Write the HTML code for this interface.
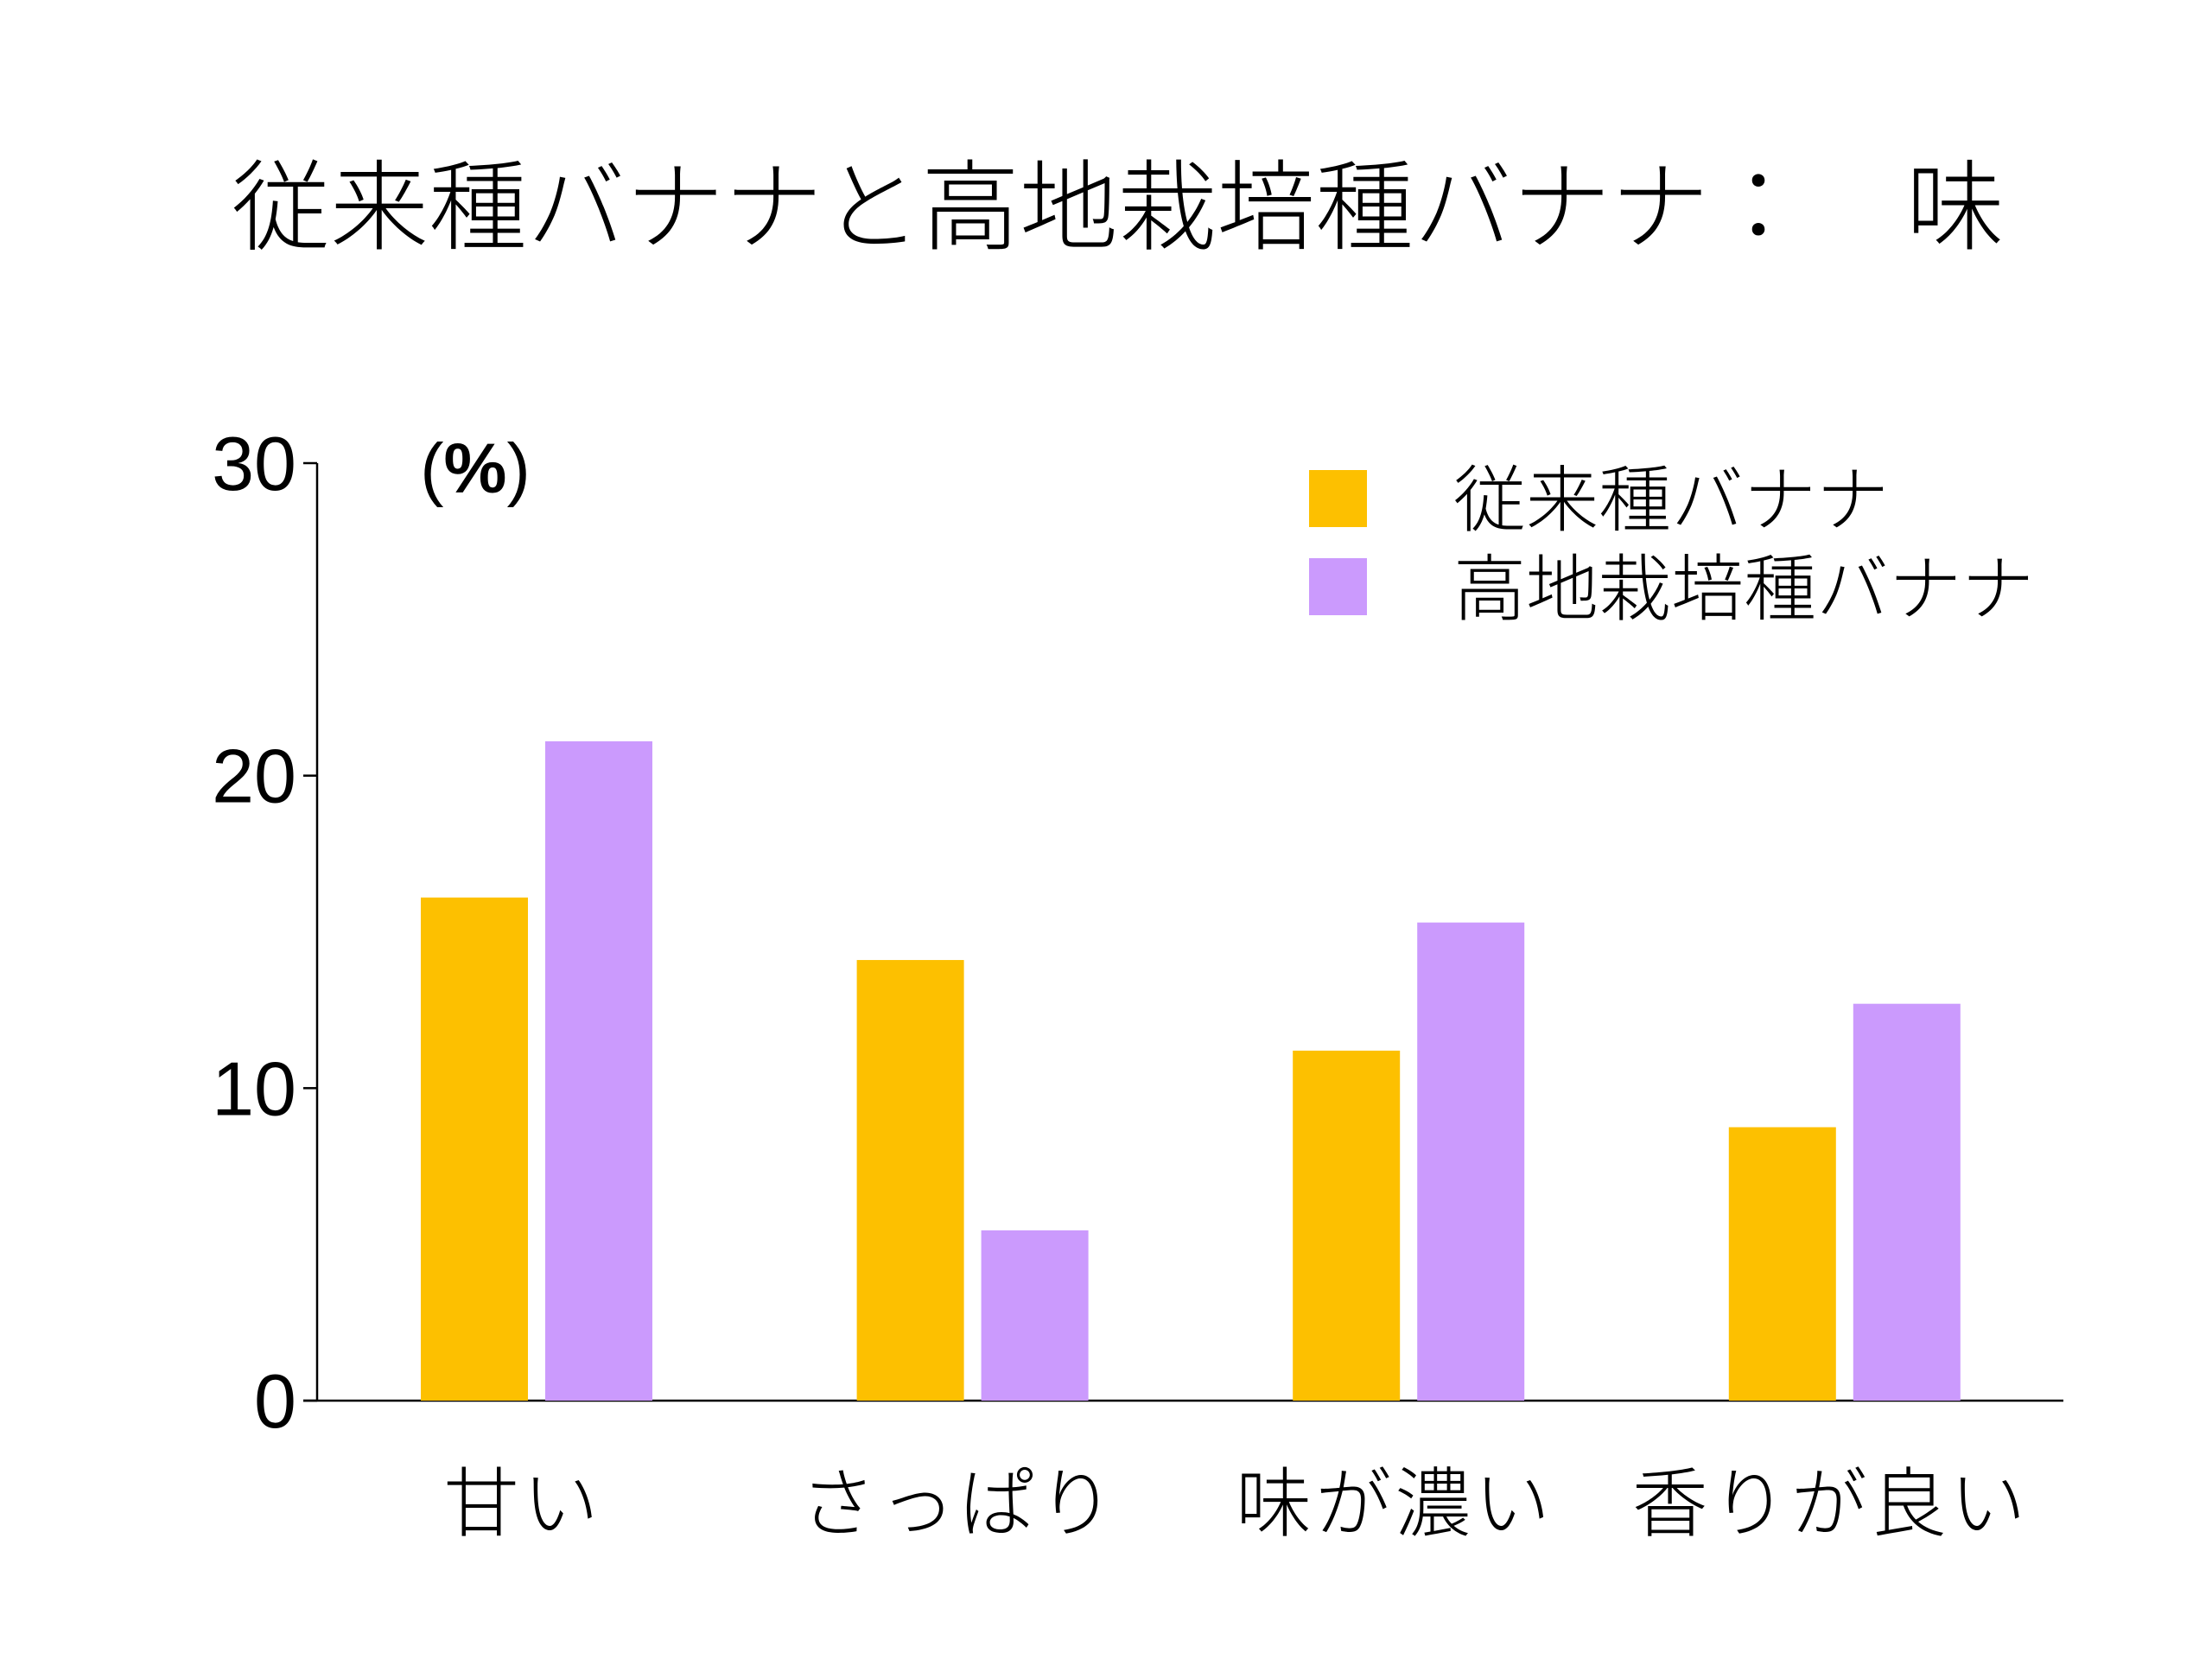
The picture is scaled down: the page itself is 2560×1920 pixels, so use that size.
<!DOCTYPE html>
<html><head><meta charset="utf-8"><style>
html,body{margin:0;padding:0;background:#fff;}
svg{display:block;font-family:"Liberation Sans","Noto Sans CJK JP",sans-serif;}
.jp{font-family:"Noto Sans CJK JP","Liberation Sans",sans-serif;font-weight:300;}
</style></head><body>
<svg id="chart" width="2560" height="1920" viewBox="0 0 2560 1920" xmlns="http://www.w3.org/2000/svg">
<rect width="2560" height="1920" fill="#fff"/>
<text class="jp" x="268" y="280" font-size="114" fill="#000">従来種バナナと高地栽培種バナナ：　味</text>
<g id="axes"></g>
<g id="bars"></g>
<text x="550" y="570" font-size="82" text-anchor="middle" fill="#000" font-family="Liberation Sans, Noto Sans CJK JP, sans-serif">(<tspan font-weight="bold">%</tspan>)</text>
<rect x="1515" y="544" width="67" height="66" fill="#FDC000"/>
<text class="jp" x="1682" y="608" font-size="84" fill="#000">従来種バナナ</text>
<rect x="1515" y="646" width="67" height="66" fill="#CB9AFD"/>
<text class="jp" x="1682" y="711" font-size="84" fill="#000">高地栽培種バナナ</text>
</svg>
<script>
const categories = ["甘い", "さっぱり", "味が濃い", "香りが良い"];
const conventional = [16.1, 14.1, 11.2, 8.75];
const highland = [21.1, 5.45, 15.3, 12.7];
const yTicks = [0, 10, 20, 30];

const NS = "http://www.w3.org/2000/svg";
const x0 = 367, x1 = 2388, yBase = 1621, yTop = 536, yMax = 30;
const groupW = 504.6, firstOrange = 487, barW = 124, gap = 20;
function y(v){ return yBase - (v / yMax) * (yBase - yTop); }
function gx(i){ return firstOrange + i * groupW; }
function mk(tag, attrs){ const e = document.createElementNS(NS, tag); for (const k in attrs) e.setAttribute(k, attrs[k]); return e; }

const axes = document.getElementById('axes');
const yAxis = mk('line', {x1:x0, y1:yTop, x2:x0, y2:yBase, stroke:'#000', 'stroke-width':2.5});


axes.appendChild(yAxis);
const xAxis = mk('line', {x1:x0 - 16, y1:yBase, x2:x1, y2:yBase, stroke:'#000', 'stroke-width':2.5});


axes.appendChild(xAxis);
yTicks.forEach(t => {
  const tk = mk('line', {x1:x0 - 16, y1:y(t), x2:x0, y2:y(t), stroke:'#000', 'stroke-width':2.5});
  
  
  axes.appendChild(tk);
  const lb = mk('text', {x:343, y:y(t) + 31, 'font-size':88, 'text-anchor':'end', fill:'#000'});
  lb.textContent = String(t);
  
  
  axes.appendChild(lb);
});

const bars = document.getElementById('bars');
categories.forEach((c, i) => {
  const b1 = mk('rect', {x:gx(i), y:y(conventional[i]), width:barW, height:yBase - y(conventional[i]), fill:'#FDC000'});
  
  
  bars.appendChild(b1);
  const b2 = mk('rect', {x:gx(i) + barW + gap, y:y(highland[i]), width:barW, height:yBase - y(highland[i]), fill:'#CB9AFD'});
  
  
  bars.appendChild(b2);
  const lb = mk('text', {x:gx(i) + barW + gap / 2 - 16, y:1771, 'font-size':88, 'text-anchor':'middle', fill:'#000', 'class':'jp', 'letter-spacing':'4'});
  lb.textContent = c;
  
  
  bars.appendChild(lb);
});
</script>
</body></html>
